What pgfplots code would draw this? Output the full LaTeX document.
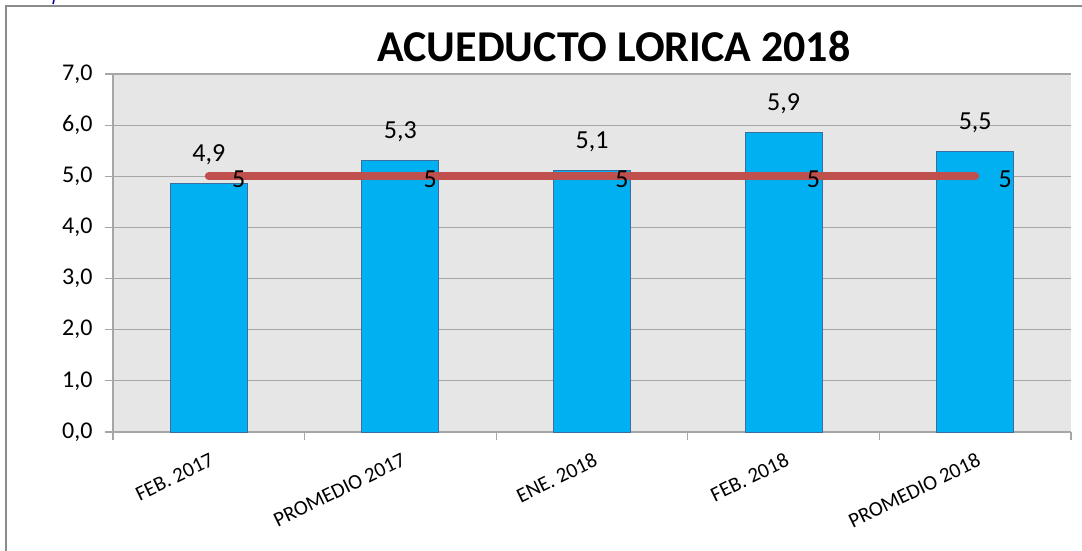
\documentclass[border=0pt]{standalone}
\usepackage{fontspec}
\setmainfont{Carlito}
\usepackage{pgfplots}
\pgfplotsset{compat=1.18}
\definecolor{barblue}{HTML}{00B0F0}
\definecolor{baredge}{HTML}{3A6E9E}
\definecolor{redline}{HTML}{C0504D}
\definecolor{plotbg}{HTML}{E6E6E6}
\definecolor{gridc}{HTML}{A6A6A6}
\definecolor{framec}{HTML}{8C8C8C}
\begin{document}
\begin{tikzpicture}
\useasboundingbox (0pt,0pt) rectangle (1082pt,550pt);
\draw[draw=framec, line width=2.2pt] (6pt,-2pt) -- (6pt,544pt) -- (1084pt,544pt);
\draw[draw=blue!60!black, line width=1.5pt] (54pt,550pt) -- (53pt,546pt);
\node[font=\fontsize{44}{50}\selectfont\bfseries, inner sep=0pt] at (614pt,504pt) {ACUEDUCTO LORICA 2018};
\begin{axis}[
  at={(113pt,118pt)}, anchor=south west,
  scale only axis, width=958pt, height=358pt,
  xmin=-0.5, xmax=4.5, ymin=0, ymax=7,
  axis x line*=bottom, axis y line*=left,
  axis line style={draw=gridc, line width=1.2pt},
  axis background/.style={fill=plotbg},
  ytick={0,1,...,7},
  ymajorgrids, grid style={draw=gridc, line width=1.2pt},
  xtick={-0.5,0.5,...,4.5},
  xticklabels={},
  extra x ticks={0,1,2,3,4},
  extra x tick labels={FEB. 2017,PROMEDIO 2017,ENE. 2018,FEB. 2018,PROMEDIO 2018},
  extra x tick style={major tick length=0pt, grid=none},
  tick align=outside, major tick length=8pt,
  tick style={draw=gridc, line width=1.2pt},
  xticklabel style={font=\fontsize{21}{24}\selectfont, rotate=26, anchor=north east, yshift=-15pt, xshift=-5pt},
  yticklabel style={font=\fontsize{24}{27}\selectfont, xshift=-9pt},
  /pgf/number format/.cd, fixed, fixed zerofill, precision=1, use comma, assume math mode=true,
]
\addplot[ybar, bar width=77pt, fill=barblue, draw=baredge, line width=1pt,
  nodes near coords={\pgfmathprintnumber[fixed,fixed zerofill,precision=1,use comma,assume math mode=true]{\pgfplotspointmeta}},
  every node near coord/.style={font=\fontsize{26}{30}\selectfont, anchor=base, yshift=22pt, text=black}]
  coordinates {(0,4.86) (1,5.30) (2,5.12) (3,5.86) (4,5.48)};
\addplot[redline, line width=8pt, line cap=round, mark=none,
  nodes near coords={5},
  every node near coord/.style={font=\fontsize{26}{30}\selectfont, anchor=west, xshift=16pt, yshift=-3pt, text=black}]
  coordinates {(0,5) (1,5) (2,5) (3,5) (4,5)};
\end{axis}
\end{tikzpicture}
\end{document}
